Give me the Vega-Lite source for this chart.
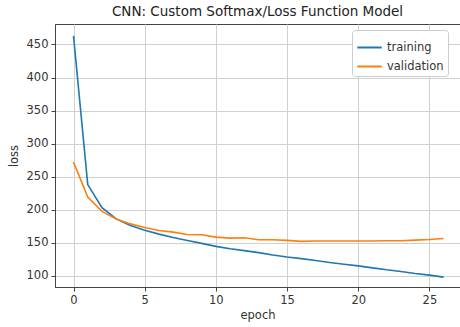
{
  "$schema": "https://vega.github.io/schema/vega-lite/v6.json",
  "autosize": {"type": "none"},
  "width": 405,
  "height": 263,
  "padding": {"left": 55, "top": 24, "right": 0, "bottom": 40},
  "background": "white",
  "title": {
    "text": "CNN: Custom Softmax/Loss Function Model",
    "font": "DejaVu Sans",
    "fontSize": 13.5,
    "fontWeight": "normal",
    "color": "#222",
    "anchor": "middle",
    "offset": 6
  },
  "config": {
    "view": {"stroke": "#444", "strokeWidth": 1},
    "axis": {
      "labelFont": "DejaVu Sans",
      "titleFont": "DejaVu Sans",
      "labelFontSize": 11.5,
      "titleFontSize": 11.5,
      "titleFontWeight": "normal",
      "labelColor": "#333",
      "titleColor": "#333",
      "gridColor": "#d0d0d0",
      "gridWidth": 1,
      "domainColor": "#444",
      "tickColor": "#444",
      "tickSize": 4
    }
  },
  "data": {
    "values": [
      {"epoch": 0, "loss": 463, "series": "training"},
      {"epoch": 1, "loss": 238, "series": "training"},
      {"epoch": 2, "loss": 203, "series": "training"},
      {"epoch": 3, "loss": 186, "series": "training"},
      {"epoch": 4, "loss": 176, "series": "training"},
      {"epoch": 5, "loss": 169, "series": "training"},
      {"epoch": 6, "loss": 163, "series": "training"},
      {"epoch": 7, "loss": 158, "series": "training"},
      {"epoch": 8, "loss": 153.5, "series": "training"},
      {"epoch": 9, "loss": 149, "series": "training"},
      {"epoch": 10, "loss": 144.5, "series": "training"},
      {"epoch": 11, "loss": 141, "series": "training"},
      {"epoch": 12, "loss": 138, "series": "training"},
      {"epoch": 13, "loss": 135, "series": "training"},
      {"epoch": 14, "loss": 131.5, "series": "training"},
      {"epoch": 15, "loss": 128.5, "series": "training"},
      {"epoch": 16, "loss": 126, "series": "training"},
      {"epoch": 17, "loss": 123, "series": "training"},
      {"epoch": 18, "loss": 120, "series": "training"},
      {"epoch": 19, "loss": 117.5, "series": "training"},
      {"epoch": 20, "loss": 115, "series": "training"},
      {"epoch": 21, "loss": 112, "series": "training"},
      {"epoch": 22, "loss": 109, "series": "training"},
      {"epoch": 23, "loss": 106.5, "series": "training"},
      {"epoch": 24, "loss": 103.5, "series": "training"},
      {"epoch": 25, "loss": 101, "series": "training"},
      {"epoch": 26, "loss": 98, "series": "training"},
      {"epoch": 0, "loss": 272, "series": "validation"},
      {"epoch": 1, "loss": 219, "series": "validation"},
      {"epoch": 2, "loss": 197.5, "series": "validation"},
      {"epoch": 3, "loss": 186, "series": "validation"},
      {"epoch": 4, "loss": 178.5, "series": "validation"},
      {"epoch": 5, "loss": 173, "series": "validation"},
      {"epoch": 6, "loss": 168.5, "series": "validation"},
      {"epoch": 7, "loss": 166, "series": "validation"},
      {"epoch": 8, "loss": 162.5, "series": "validation"},
      {"epoch": 9, "loss": 162, "series": "validation"},
      {"epoch": 10, "loss": 158.5, "series": "validation"},
      {"epoch": 11, "loss": 157, "series": "validation"},
      {"epoch": 12, "loss": 157.5, "series": "validation"},
      {"epoch": 13, "loss": 154.5, "series": "validation"},
      {"epoch": 14, "loss": 154.5, "series": "validation"},
      {"epoch": 15, "loss": 153.5, "series": "validation"},
      {"epoch": 16, "loss": 152, "series": "validation"},
      {"epoch": 17, "loss": 152.5, "series": "validation"},
      {"epoch": 18, "loss": 152.5, "series": "validation"},
      {"epoch": 19, "loss": 152.5, "series": "validation"},
      {"epoch": 20, "loss": 152.5, "series": "validation"},
      {"epoch": 21, "loss": 152.5, "series": "validation"},
      {"epoch": 22, "loss": 153, "series": "validation"},
      {"epoch": 23, "loss": 153, "series": "validation"},
      {"epoch": 24, "loss": 154, "series": "validation"},
      {"epoch": 25, "loss": 154.8, "series": "validation"},
      {"epoch": 26, "loss": 156.5, "series": "validation"}
    ]
  },
  "mark": {"type": "line", "strokeWidth": 1.6, "clip": true},
  "encoding": {
    "x": {
      "field": "epoch",
      "type": "quantitative",
      "scale": {"domain": [-1.3, 27.15], "nice": false, "zero": false},
      "axis": {"values": [0, 5, 10, 15, 20, 25], "title": "epoch", "titlePadding": 4, "labelPadding": 3}
    },
    "y": {
      "field": "loss",
      "type": "quantitative",
      "scale": {"domain": [83, 481], "nice": false, "zero": false},
      "axis": {"values": [100, 150, 200, 250, 300, 350, 400, 450], "title": "loss", "titlePadding": 7, "labelPadding": 3}
    },
    "color": {
      "field": "series",
      "type": "nominal",
      "scale": {"domain": ["training", "validation"], "range": ["#1f77b4", "#ff7f0e"]},
      "legend": {
        "title": null,
        "orient": "none",
        "legendX": 297,
        "legendY": 6,
        "symbolType": "stroke",
        "symbolSize": 600,
        "symbolStrokeWidth": 2,
        "labelFont": "DejaVu Sans",
        "labelFontSize": 11.5,
        "labelColor": "#333",
        "rowPadding": -6,
        "padding": 4,
        "strokeColor": "#ccc",
        "fillColor": "white",
        "cornerRadius": 3
      }
    }
  }
}
